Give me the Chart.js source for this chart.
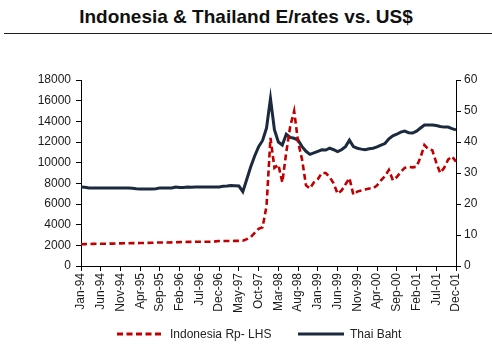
<!DOCTYPE html>
<html>
<head>
<meta charset="utf-8">
<script src="https://cdn.jsdelivr.net/npm/chart.js@4.4.1/dist/chart.umd.min.js"></script>
<style>
  html, body { margin: 0; padding: 0; background: #fff; }
  body { width: 492px; height: 354px; position: relative; overflow: hidden; font-family: Arial, "Liberation Sans", sans-serif; }
  #title { position: absolute; left: 0; top: 6px; width: 492px; text-align: center; font-weight: bold; font-size: 19px; line-height: 22px; color: #111; }
  #rule { position: absolute; left: 4px; top: 33px; width: 488px; height: 0; border-top: 1px solid #222; }
  #wrap { position: absolute; left: 0; top: 0; width: 492px; height: 354px; }
  #legend { position: absolute; top: 326px; left: 0; width: 492px; height: 16px; font-size: 12px; color: #222; }
  .item { position: absolute; top: 0; display: flex; align-items: center; height: 16px; }
  .item svg { margin-right: 6px; }
</style>
</head>
<body>
<div id="title">Indonesia &amp; Thailand E/rates vs. US$</div>
<div id="rule"></div>
<div id="wrap"><canvas id="c" width="492" height="354"></canvas></div>
<div id="legend">
  <div class="item" style="left:117px"><svg width="47" height="6"><line x1="0" y1="3" x2="47" y2="3" stroke="#c00000" stroke-width="3" stroke-dasharray="6,3.5"/></svg><span>Indonesia Rp- LHS</span></div>
  <div class="item" style="left:298px"><svg width="46" height="6"><line x1="0" y1="3" x2="46" y2="3" stroke="#1b2a3e" stroke-width="3"/></svg><span>Thai Baht</span></div>
</div>
<script>
const monthNames = ["Jan","Feb","Mar","Apr","May","Jun","Jul","Aug","Sep","Oct","Nov","Dec"];
const years = ["94","95","96","97","98","99","00","01"];
const categories = [];
years.forEach(y => monthNames.forEach(m => categories.push(m + "-" + y)));

const indonesiaRp = [
  2110,2120,2130,2140,2150,2150,2160,2160,2170,2180,2190,2200,
  2200,2210,2210,2220,2230,2240,2250,2270,2270,2280,2280,2290,
  2300,2310,2320,2330,2330,2340,2340,2340,2340,2350,2380,2420,
  2420,2420,2420,2430,2430,2440,2600,2800,3200,3600,3750,5800,
  12400,9500,9800,8100,11000,13500,15000,12000,10300,7800,7500,8100,
  8400,9000,9000,8600,8000,7000,7300,7900,8500,6900,7200,7300,
  7400,7500,7500,7800,8300,8700,9300,8300,8600,9100,9500,9600,
  9550,9600,10500,11700,11300,11200,10000,9000,9500,10300,10600,10100
];

const thaiBaht = [
  25.5,25.4,25.2,25.2,25.2,25.2,25.2,25.2,25.2,25.2,25.2,25.2,
  25.2,25.1,24.9,24.8,24.8,24.8,24.8,24.9,25.2,25.2,25.2,25.2,
  25.5,25.3,25.3,25.5,25.4,25.5,25.5,25.5,25.5,25.5,25.5,25.5,
  25.7,25.8,26.0,25.9,25.8,24.0,28.0,32.0,35.5,38.5,40.5,44.5,
  54.0,44.0,40.0,39.0,42.5,41.5,41.2,40.6,38.5,37.0,36.0,36.5,
  37.0,37.5,37.4,38.0,37.5,36.9,37.5,38.5,40.6,38.5,38.0,37.7,
  37.5,37.8,38.0,38.4,39.0,39.5,41.0,42.0,42.5,43.2,43.5,43.0,
  42.9,43.5,44.5,45.5,45.5,45.5,45.3,45.0,44.8,44.8,44.3,43.9
];

const leftTicks = [0,2000,4000,6000,8000,10000,12000,14000,16000,18000];
const rightTicks = [0,10,20,30,40,50,60];

const tickFont = { family: 'Arial, "Liberation Sans", sans-serif', size: 12 };
const tickColor = '#1a1a1a';

new Chart(document.getElementById('c'), {
  type: 'line',
  data: {
    labels: categories,
    datasets: [
      { label: 'Indonesia Rp- LHS', data: indonesiaRp, yAxisID: 'y', borderColor: '#c00000', borderWidth: 2.6, borderDash: [6, 3.5], pointRadius: 0, tension: 0, fill: false },
      { label: 'Thai Baht', data: thaiBaht, yAxisID: 'y1', borderColor: '#1b2a3e', borderWidth: 3, pointRadius: 0, tension: 0, fill: false }
    ]
  },
  options: {
    responsive: false,
    animation: false,
    layout: { padding: { top: 80, bottom: 34, left: 0, right: 0 } },
    plugins: { legend: { display: false }, title: { display: false }, tooltip: { enabled: false } },
    scales: {
      x: {
        type: 'category',
        offset: false,
        grid: { drawOnChartArea: false, tickLength: 5, color: '#000', lineWidth: 1 },
        border: { display: true, color: '#000', width: 1 },
        ticks: {
          autoSkip: false, minRotation: 90, maxRotation: 90, font: tickFont, color: tickColor, padding: 2,
          callback: function(v, i) { return i % 5 === 0 ? categories[i] : null; }
        },
        afterFit: function(s) { s.height = 54; }
      },
      y: {
        position: 'left', min: 0, max: 18000,
        afterBuildTicks: function(s) { s.ticks = leftTicks.map(v => ({ value: v })); },
        grid: { drawOnChartArea: false, tickLength: 5, color: '#000' },
        border: { display: true, color: '#000', width: 1 },
        ticks: { font: tickFont, color: tickColor, padding: 5, callback: v => String(v) },
        afterFit: function(s) { s.width = 81; }
      },
      y1: {
        position: 'right', min: 0, max: 60,
        afterBuildTicks: function(s) { s.ticks = rightTicks.map(v => ({ value: v })); },
        grid: { drawOnChartArea: false, tickLength: 5, color: '#000' },
        border: { display: true, color: '#000', width: 1 },
        ticks: { font: tickFont, color: tickColor, padding: 3, callback: v => String(v) },
        afterFit: function(s) { s.width = 36; }
      }
    }
  }
});
</script>
</body>
</html>
